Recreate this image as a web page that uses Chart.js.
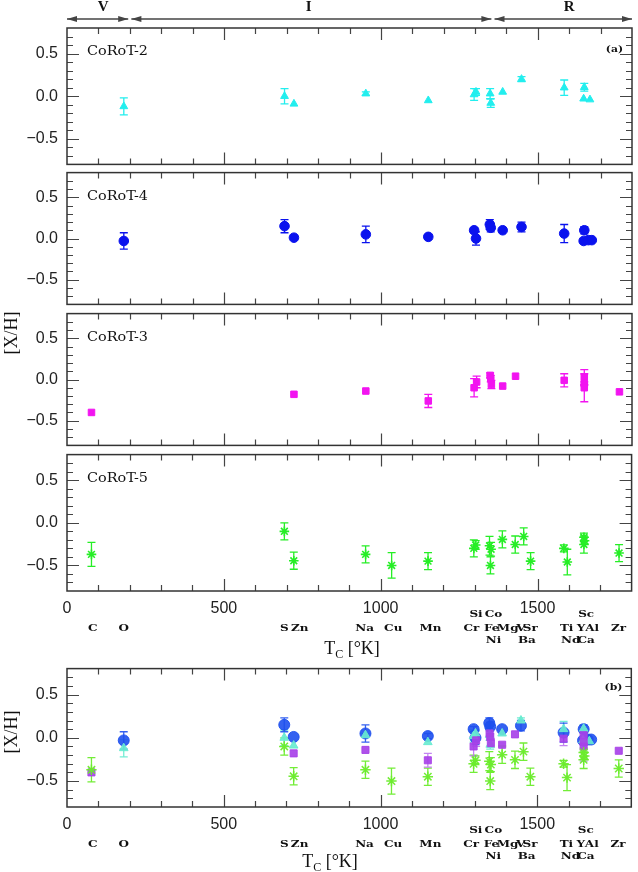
<!DOCTYPE html>
<html>
<head>
<meta charset="utf-8">
<script src="https://cdn.jsdelivr.net/npm/chart.js@4.4.1/dist/chart.umd.min.js"></script>
<style>
  body { margin: 0; background: #fff; }
  #wrap { position: relative; width: 638px; height: 872px; overflow: hidden; }
  #wrap canvas { position: absolute; left: 0; }
</style>
</head>
<body>
<div id="wrap">
  <canvas id="p1" width="638" height="183" style="top:0px"></canvas>
  <canvas id="p2" width="638" height="169" style="top:154px"></canvas>
  <canvas id="p3" width="638" height="169" style="top:295px"></canvas>
  <canvas id="p4" width="638" height="236" style="top:436px"></canvas>
  <canvas id="pb" width="638" height="222" style="top:650px"></canvas>
</div>
<script>
// axis ticks
const xTicks = [0, 500, 1000, 1500];
const yTicks = [-0.5, 0, 0.5];

// volatile / intermediate / refractory bands along Tc
const regionNames = ['V', 'I', 'R'];
const regionFrom = [0, 205, 1362];
const regionTo = [195, 1352, 1800];
const regionLabelTc = [115, 770, 1600];

// element labels under the Tc axis (row 0 = top line)
const elemNames = ['Si', 'Co', 'Sc', 'C', 'O', 'S', 'Zn', 'Na', 'Cu', 'Mn', 'Cr', 'Fe', 'Mg', 'V', 'Sr', 'Ti', 'Y', 'Al', 'Zr', 'Ni', 'Ba', 'Nd', 'Ca'];
const elemTc = [1304, 1360, 1655, 82, 181, 693, 742, 949, 1040, 1159, 1289, 1354, 1405, 1447, 1477, 1593, 1639, 1674, 1758, 1360, 1466, 1606, 1655];
const elemRow = [0, 0, 0, 1, 1, 1, 1, 1, 1, 1, 1, 1, 1, 1, 1, 1, 1, 1, 1, 2, 2, 2, 2];

// CoRoT-2
const c2Tc = [181, 693, 723, 952, 1151, 1297, 1303, 1348, 1350, 1388, 1448, 1584, 1648, 1646, 1666];
const c2Val = [-0.12, 0.00, -0.09, 0.03, -0.05, 0.02, 0.05, 0.03, -0.08, 0.05, 0.20, 0.10, 0.105, -0.03, -0.04];
const c2Err = [0.10, 0.09, 0, 0.02, 0, 0.07, 0.04, 0.06, 0.05, 0, 0.03, 0.09, 0.045, 0, 0];

// CoRoT-4
const c4Tc = [181, 693, 723, 952, 1151, 1297, 1303, 1347, 1350, 1388, 1448, 1584, 1648, 1646, 1661, 1672];
const c4Val = [-0.03, 0.15, 0.01, 0.05, 0.02, 0.10, 0.00, 0.17, 0.13, 0.10, 0.14, 0.06, 0.10, -0.03, -0.02, -0.02];
const c4Err = [0.10, 0.08, 0, 0.10, 0.03, 0.03, 0.08, 0.06, 0.05, 0, 0.06, 0.11, 0.045, 0.02, 0, 0];

// CoRoT-3
const c3Tc = [78, 723, 952, 1151, 1297, 1305, 1348, 1350, 1352, 1388, 1429, 1584, 1648, 1648, 1648, 1760];
const c3Val = [-0.40, -0.18, -0.14, -0.26, -0.10, -0.03, 0.05, 0.01, -0.06, -0.08, 0.04, -0.01, 0.03, -0.05, -0.10, -0.15];
const c3Err = [0, 0, 0, 0.08, 0.11, 0.07, 0.03, 0.04, 0.05, 0, 0, 0.08, 0.09, 0.02, 0.17, 0];

// CoRoT-5
const c5Tc = [78, 693, 723, 952, 1035, 1151, 1297, 1303, 1347, 1350, 1352, 1388, 1429, 1456, 1478, 1584, 1595, 1648, 1648, 1650, 1760];
const c5Val = [-0.37, -0.10, -0.445, -0.37, -0.50, -0.45, -0.30, -0.26, -0.27, -0.50, -0.31, -0.195, -0.255, -0.16, -0.45, -0.30, -0.46, -0.17, -0.255, -0.21, -0.355];
const c5Err = [0.14, 0.10, 0.10, 0.10, 0.15, 0.10, 0.10, 0.05, 0.11, 0.10, 0.08, 0.10, 0.10, 0.10, 0.10, 0.04, 0.15, 0.05, 0.10, 0.04, 0.10];

Chart.defaults.font.family = '"Liberation Sans", Arial, sans-serif';
Chart.defaults.font.size = 16;
Chart.defaults.color = '#222';

function fmt(v) {
  return (v < 0 ? '\u2212' : '') + Math.abs(v).toFixed(1);
}

// typewriter-like label: serif glyphs stretched a little sideways
function tw(ctx, text, x, y, font, align) {
  ctx.save();
  ctx.translate(x, y);
  ctx.scale(1.2, 1);
  ctx.font = font;
  ctx.textAlign = align;
  ctx.textBaseline = 'middle';
  ctx.fillText(text, 0, 0);
  ctx.restore();
}

const decor = {
  id: 'decor',
  beforeDatasetsDraw(chart) {
    // error bars
    const ctx = chart.ctx, ys = chart.scales.y;
    chart.data.datasets.forEach((ds, i) => {
      if (!ds.errs) return;
      const meta = chart.getDatasetMeta(i);
      ctx.save();
      ctx.strokeStyle = ds.errColor;
      ctx.lineWidth = 1.3;
      meta.data.forEach((pt, j) => {
        const e = ds.errs[j];
        if (!e) return;
        const v = ds.data[j].y;
        const y0 = ys.getPixelForValue(v - e), y1 = ys.getPixelForValue(v + e);
        ctx.beginPath();
        ctx.moveTo(pt.x, y0); ctx.lineTo(pt.x, y1);
        ctx.moveTo(pt.x - 4, y0); ctx.lineTo(pt.x + 4, y0);
        ctx.moveTo(pt.x - 4, y1); ctx.lineTo(pt.x + 4, y1);
        ctx.stroke();
      });
      ctx.restore();
    });
  },
  afterDraw(chart, args, o) {
    const ctx = chart.ctx;
    const { left, right, top, bottom } = chart.chartArea;
    const xs = chart.scales.x, ys = chart.scales.y;
    ctx.save();
    // inward ticks on all four sides
    ctx.strokeStyle = '#444';
    ctx.lineWidth = 1.2;
    ctx.beginPath();
    for (let v = 100; v < 1800; v += 100) {
      const px = Math.round(xs.getPixelForValue(v)) + 0.5;
      const len = v % 500 === 0 ? 12 : 6;
      ctx.moveTo(px, bottom); ctx.lineTo(px, bottom - len);
      ctx.moveTo(px, top); ctx.lineTo(px, top + len);
    }
    for (let k = -7; k <= 7; k++) {
      const py = Math.round(ys.getPixelForValue(k / 10)) + 0.5;
      const len = k % 5 === 0 ? 12 : 6;
      ctx.moveTo(left, py); ctx.lineTo(left + len, py);
      ctx.moveTo(right, py); ctx.lineTo(right - len, py);
    }
    ctx.stroke();
    // frame
    ctx.strokeStyle = '#333';
    ctx.lineWidth = 1.5;
    ctx.strokeRect(left, top, right - left, bottom - top);

    ctx.fillStyle = '#111';
    if (o.star) tw(ctx, o.star, 87, top + 24, '12px "DejaVu Serif"', 'left');
    if (o.tag) tw(ctx, o.tag, right - 9, top + o.tagDy, 'bold 9px "DejaVu Serif"', 'right');

    if (o.arrows) {
      ctx.strokeStyle = '#444';
      ctx.fillStyle = '#444';
      ctx.lineWidth = 1.4;
      const ay = 19;
      regionNames.forEach((name, i) => {
        const x0 = xs.getPixelForValue(regionFrom[i]), x1 = xs.getPixelForValue(regionTo[i]);
        ctx.beginPath(); ctx.moveTo(x0, ay); ctx.lineTo(x1, ay); ctx.stroke();
        [[x0, 1], [x1, -1]].forEach(([tx, d]) => {
          ctx.beginPath();
          ctx.moveTo(tx, ay); ctx.lineTo(tx + d * 10, ay - 3); ctx.lineTo(tx + d * 10, ay + 3);
          ctx.closePath(); ctx.fill();
        });
        ctx.fillStyle = '#111';
        ctx.font = 'bold 15px "Liberation Serif"';
        ctx.textAlign = 'center';
        ctx.textBaseline = 'middle';
        ctx.fillText(name, xs.getPixelForValue(regionLabelTc[i]), 7);
        ctx.fillStyle = '#444';
      });
    }

    if (o.elements) {
      ctx.fillStyle = '#111';
      const rowDy = [23, 37, 49];
      elemNames.forEach((n, i) => {
        tw(ctx, n, xs.getPixelForValue(elemTc[i]), bottom + rowDy[elemRow[i]], 'bold 10px "DejaVu Serif"', 'center');
      });
      // T_C [°K]
      ctx.font = '18px "Liberation Serif"';
      const wT = ctx.measureText('T').width, wR = ctx.measureText(' [\u00b0K]').width;
      ctx.font = '12px "Liberation Serif"';
      const wC = ctx.measureText('C').width;
      let tx = o.xTitleX - (wT + wC + wR) / 2;
      const ty = bottom + o.xTitleDy;
      ctx.textAlign = 'left';
      ctx.textBaseline = 'alphabetic';
      ctx.font = '18px "Liberation Serif"';
      ctx.fillText('T', tx, ty);
      ctx.font = '12px "Liberation Serif"';
      ctx.fillText('C', tx + wT, ty + 4);
      ctx.font = '18px "Liberation Serif"';
      ctx.fillText(' [\u00b0K]', tx + wT + wC, ty);
    }

    if (o.yTitle) {
      ctx.save();
      ctx.translate(12, o.yTitleY);
      ctx.rotate(-Math.PI / 2);
      ctx.font = '18px "Liberation Serif"';
      ctx.textAlign = 'center';
      ctx.textBaseline = 'middle';
      ctx.fillStyle = '#111';
      ctx.fillText('[X/H]', 0, 0);
      ctx.restore();
    }
    ctx.restore();
  }
};
Chart.register(decor);

function series(tc, val, err, style) {
  return Object.assign({ data: tc.map((t, i) => ({ x: t, y: val[i] })), errs: err }, style);
}

function panel(id, padTop, padBottom, xAxisH, datasets, deco) {
  return new Chart(document.getElementById(id), {
    type: 'scatter',
    data: { datasets: datasets },
    options: {
      responsive: false,
      animation: false,
      events: [],
      layout: { padding: { left: 0, right: 6, top: padTop, bottom: padBottom } },
      scales: {
        x: {
          type: 'linear', min: 0, max: 1800, display: xAxisH > 0,
          grid: { display: false, drawTicks: false },
          border: { display: false },
          ticks: { padding: 8, maxRotation: 0, callback: v => String(v) },
          afterBuildTicks: s => { s.ticks = xTicks.map(v => ({ value: v })); },
          afterFit: s => { s.height = xAxisH; }
        },
        y: {
          type: 'linear', min: -0.8, max: 0.8,
          grid: { display: false, drawTicks: false },
          border: { display: false },
          ticks: { padding: 9, callback: v => fmt(v) },
          afterBuildTicks: s => { s.ticks = yTicks.map(v => ({ value: v })); },
          afterFit: s => { s.width = 67; }
        }
      },
      plugins: { legend: { display: false }, tooltip: { enabled: false }, decor: deco }
    }
  });
}

// panel (a) styles
const cyanA = '#22eeee', blueA = '#0a12ee', magA = '#f214f0', greenA = '#26ee26';
const triA = { pointStyle: 'triangle', pointRadius: 4.5, backgroundColor: cyanA, borderColor: cyanA, borderWidth: 1, errColor: cyanA };
const dotA = { pointStyle: 'circle', pointRadius: 4.8, backgroundColor: blueA, borderColor: blueA, borderWidth: 1, errColor: blueA };
const boxA = { pointStyle: 'rect', pointRadius: 4.6, backgroundColor: magA, borderColor: magA, borderWidth: 1, errColor: magA };
const starA = { pointStyle: 'star', pointRadius: 4.8, backgroundColor: greenA, borderColor: greenA, borderWidth: 1.6, errColor: greenA };

panel('p1', 28, 15, 0, [series(c2Tc, c2Val, c2Err, triA)], { star: 'CoRoT-2', tag: '(a)', tagDy: 22, arrows: true });
panel('p2', 14, 14, 0, [series(c4Tc, c4Val, c4Err, dotA)], { star: 'CoRoT-4' });
panel('p3', 14, 14, 0, [series(c3Tc, c3Val, c3Err, boxA)], { star: 'CoRoT-3', yTitle: true, yTitleY: 333 - 295 });
panel('p4', 14, 0, 81, [series(c5Tc, c5Val, c5Err, starA)], { elements: true, star: 'CoRoT-5', xTitleX: 352, xTitleDy: 63 });

// panel (b): all four stars together
const blueB = 'rgba(30,80,238,0.9)', aquaB = 'rgba(105,236,208,0.92)', purpB = 'rgba(168,66,232,0.92)', greenB = 'rgba(108,236,44,0.95)';
panel('pb', 14, 0, 65, [
  series(c5Tc, c5Val, c5Err, { pointStyle: 'star', pointRadius: 5.2, borderColor: greenB, backgroundColor: greenB, borderWidth: 1.5, errColor: greenB, order: 0 }),
  series(c3Tc, c3Val, c3Err, { pointStyle: 'rect', pointRadius: 5, borderColor: purpB, backgroundColor: purpB, borderWidth: 1, errColor: 'rgba(190,120,240,0.9)', order: 1 }),
  series(c2Tc, c2Val, c2Err, { pointStyle: 'triangle', pointRadius: 5, borderColor: aquaB, backgroundColor: aquaB, borderWidth: 1, errColor: aquaB, order: 2 }),
  series(c4Tc, c4Val, c4Err, { pointStyle: 'circle', pointRadius: 5.5, borderColor: blueB, backgroundColor: blueB, borderWidth: 1, errColor: blueB, order: 3 })
], { elements: true, tag: '(b)', tagDy: 19, xTitleX: 330, xTitleDy: 60, yTitle: true, yTitleY: 732 - 650 });
</script>
</body>
</html>
